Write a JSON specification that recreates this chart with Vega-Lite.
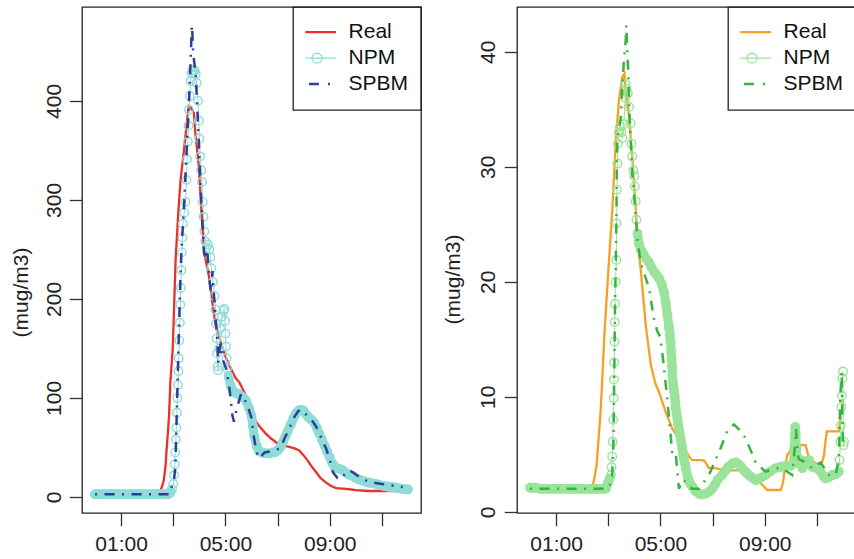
{
  "$schema": "https://vega.github.io/schema/vega-lite/v6.json",
  "background": "white",
  "padding": {"left": 9, "top": 5, "right": 0, "bottom": 0},
  "bounds": "flush",
  "spacing": 96,
  "config": {
    "font": "Liberation Sans",
    "view": {"stroke": "#222222", "strokeWidth": 1.3},
    "axis": {"grid": false, "domain": false, "tickColor": "#333333", "tickWidth": 1.3, "tickSize": 12.7, "labelFont": "Liberation Sans", "labelFontSize": 21, "labelColor": "#222222", "titleFont": "Liberation Sans", "titleFontSize": 21, "titleFontWeight": "normal", "titleColor": "#222222", "labelFlush": false, "labelOverlap": false}
  },
  "resolve": {"scale": {"color": "independent"}, "legend": {"color": "independent"}},
  "datasets": {
    "left": [
      {"s":"Real","t":0,"v":2.7},{"s":"Real","t":1,"v":2.7},{"s":"Real","t":2,"v":2.7},{"s":"Real","t":2.4,"v":2.8},{"s":"Real","t":2.46,"v":4},{"s":"Real","t":2.55,"v":9},{"s":"Real","t":2.63,"v":16},{"s":"Real","t":2.7,"v":30},{"s":"Real","t":2.75,"v":50},{"s":"Real","t":2.8,"v":67},{"s":"Real","t":2.84,"v":83},{"s":"Real","t":2.89,"v":117},{"s":"Real","t":2.94,"v":135},{"s":"Real","t":2.98,"v":150},{"s":"Real","t":3.03,"v":190},{"s":"Real","t":3.09,"v":240},{"s":"Real","t":3.2,"v":290},{"s":"Real","t":3.28,"v":320},{"s":"Real","t":3.41,"v":350},{"s":"Real","t":3.5,"v":372},{"s":"Real","t":3.56,"v":388},{"s":"Real","t":3.6,"v":395},{"s":"Real","t":3.66,"v":394},{"s":"Real","t":3.72,"v":391},{"s":"Real","t":3.79,"v":388},{"s":"Real","t":3.85,"v":367},{"s":"Real","t":3.98,"v":334},{"s":"Real","t":4.04,"v":307},{"s":"Real","t":4.1,"v":280},{"s":"Real","t":4.17,"v":252},{"s":"Real","t":4.25,"v":238},{"s":"Real","t":4.36,"v":224},{"s":"Real","t":4.49,"v":198},{"s":"Real","t":4.62,"v":174},{"s":"Real","t":4.81,"v":157},{"s":"Real","t":5.0,"v":142},{"s":"Real","t":5.2,"v":130},{"s":"Real","t":5.39,"v":120},{"s":"Real","t":5.53,"v":116},{"s":"Real","t":5.7,"v":107},{"s":"Real","t":5.85,"v":99},{"s":"Real","t":6.0,"v":88},{"s":"Real","t":6.17,"v":76},{"s":"Real","t":6.35,"v":70},{"s":"Real","t":6.55,"v":64},{"s":"Real","t":6.75,"v":59},{"s":"Real","t":7.0,"v":54},{"s":"Real","t":7.2,"v":52},{"s":"Real","t":7.45,"v":50.5},{"s":"Real","t":7.65,"v":49},{"s":"Real","t":7.83,"v":47},{"s":"Real","t":8.0,"v":42},{"s":"Real","t":8.15,"v":37},{"s":"Real","t":8.3,"v":31},{"s":"Real","t":8.48,"v":25},{"s":"Real","t":8.65,"v":19},{"s":"Real","t":8.86,"v":14.5},{"s":"Real","t":9.05,"v":11},{"s":"Real","t":9.25,"v":9},{"s":"Real","t":9.5,"v":8.5},{"s":"Real","t":9.76,"v":7.8},{"s":"Real","t":10.0,"v":7},{"s":"Real","t":10.5,"v":6},{"s":"Real","t":11.0,"v":6},{"s":"Real","t":11.5,"v":6},{"s":"Real","t":12.0,"v":6},
      {"s":"NPM","t":0,"v":2.7},{"s":"NPM","t":0.1,"v":2.7},{"s":"NPM","t":0.2,"v":2.7},{"s":"NPM","t":0.3,"v":2.7},{"s":"NPM","t":0.4,"v":2.7},{"s":"NPM","t":0.5,"v":2.7},{"s":"NPM","t":0.6,"v":2.7},{"s":"NPM","t":0.7,"v":2.7},{"s":"NPM","t":0.8,"v":2.7},{"s":"NPM","t":0.9,"v":2.7},{"s":"NPM","t":1.0,"v":2.7},{"s":"NPM","t":1.1,"v":2.7},{"s":"NPM","t":1.2,"v":2.7},{"s":"NPM","t":1.3,"v":2.7},{"s":"NPM","t":1.4,"v":2.7},{"s":"NPM","t":1.5,"v":2.7},{"s":"NPM","t":1.6,"v":2.7},{"s":"NPM","t":1.7,"v":2.7},{"s":"NPM","t":1.8,"v":2.7},{"s":"NPM","t":1.9,"v":2.7},{"s":"NPM","t":2.0,"v":2.7},{"s":"NPM","t":2.1,"v":2.7},{"s":"NPM","t":2.2,"v":2.7},{"s":"NPM","t":2.3,"v":2.7},{"s":"NPM","t":2.4,"v":2.7},{"s":"NPM","t":2.5,"v":2.7},{"s":"NPM","t":2.6,"v":2.7},{"s":"NPM","t":2.7,"v":2.7},{"s":"NPM","t":2.8,"v":2.8},
      {"s":"NPM","t":2.85,"v":3.5},{"s":"NPM","t":2.9,"v":5},{"s":"NPM","t":2.95,"v":8},{"s":"NPM","t":3.0,"v":13},{"s":"NPM","t":3.03,"v":22},{"s":"NPM","t":3.06,"v":33},{"s":"NPM","t":3.08,"v":45},{"s":"NPM","t":3.1,"v":58},{"s":"NPM","t":3.12,"v":70},{"s":"NPM","t":3.14,"v":85},{"s":"NPM","t":3.16,"v":100},{"s":"NPM","t":3.18,"v":113},{"s":"NPM","t":3.2,"v":127},{"s":"NPM","t":3.21,"v":140},{"s":"NPM","t":3.23,"v":158},{"s":"NPM","t":3.25,"v":176},{"s":"NPM","t":3.27,"v":194},{"s":"NPM","t":3.29,"v":211},{"s":"NPM","t":3.31,"v":229},{"s":"NPM","t":3.33,"v":247},{"s":"NPM","t":3.35,"v":262},{"s":"NPM","t":3.37,"v":276},{"s":"NPM","t":3.42,"v":287},{"s":"NPM","t":3.47,"v":298},{"s":"NPM","t":3.51,"v":320},{"s":"NPM","t":3.53,"v":341},{"s":"NPM","t":3.56,"v":359},{"s":"NPM","t":3.58,"v":375},{"s":"NPM","t":3.6,"v":391},{"s":"NPM","t":3.64,"v":405},{"s":"NPM","t":3.67,"v":420},{"s":"NPM","t":3.7,"v":428},{"s":"NPM","t":3.74,"v":431},{"s":"NPM","t":3.78,"v":429},{"s":"NPM","t":3.82,"v":431},{"s":"NPM","t":3.86,"v":427},{"s":"NPM","t":3.9,"v":418},{"s":"NPM","t":3.95,"v":400},{"s":"NPM","t":3.98,"v":380},{"s":"NPM","t":4.0,"v":362},{"s":"NPM","t":4.03,"v":344},{"s":"NPM","t":4.07,"v":330},{"s":"NPM","t":4.1,"v":318},{"s":"NPM","t":4.13,"v":298},{"s":"NPM","t":4.16,"v":283},{"s":"NPM","t":4.19,"v":268},{"s":"NPM","t":4.23,"v":258},{"s":"NPM","t":4.28,"v":252},{"s":"NPM","t":4.33,"v":255},{"s":"NPM","t":4.38,"v":250},{"s":"NPM","t":4.42,"v":242},{"s":"NPM","t":4.46,"v":231},{"s":"NPM","t":4.52,"v":217},{"s":"NPM","t":4.58,"v":203},{"s":"NPM","t":4.62,"v":189},{"s":"NPM","t":4.64,"v":175},{"s":"NPM","t":4.66,"v":160},{"s":"NPM","t":4.68,"v":145},{"s":"NPM","t":4.7,"v":132},{"s":"NPM","t":4.72,"v":128},{"s":"NPM","t":4.76,"v":150},{"s":"NPM","t":4.8,"v":170},{"s":"NPM","t":4.86,"v":182},{"s":"NPM","t":4.92,"v":188},{"s":"NPM","t":4.96,"v":190},{"s":"NPM","t":4.98,"v":178},{"s":"NPM","t":5.0,"v":165},{"s":"NPM","t":5.02,"v":152},{"s":"NPM","t":5.04,"v":140},{"s":"NPM","t":5.07,"v":130},{"s":"NPM","t":5.12,"v":122},{"s":"NPM","t":5.2,"v":112},{"s":"NPM","t":5.3,"v":107},{"s":"NPM","t":5.4,"v":105},{"s":"NPM","t":5.5,"v":104},{"s":"NPM","t":5.6,"v":102},{"s":"NPM","t":5.7,"v":100},{"s":"NPM","t":5.8,"v":97},{"s":"NPM","t":5.9,"v":90},{"s":"NPM","t":6.0,"v":82},{"s":"NPM","t":6.05,"v":72},{"s":"NPM","t":6.1,"v":62},{"s":"NPM","t":6.2,"v":51},{"s":"NPM","t":6.3,"v":46},{"s":"NPM","t":6.4,"v":45},{"s":"NPM","t":6.5,"v":44},{"s":"NPM","t":6.6,"v":44},{"s":"NPM","t":6.7,"v":44},{"s":"NPM","t":6.8,"v":45},{"s":"NPM","t":6.9,"v":45},{"s":"NPM","t":7.0,"v":47},{"s":"NPM","t":7.1,"v":50},{"s":"NPM","t":7.2,"v":55},{"s":"NPM","t":7.3,"v":61},{"s":"NPM","t":7.4,"v":67},{"s":"NPM","t":7.5,"v":73},{"s":"NPM","t":7.6,"v":79},{"s":"NPM","t":7.7,"v":84},{"s":"NPM","t":7.8,"v":87},{"s":"NPM","t":7.9,"v":88},{"s":"NPM","t":8.0,"v":87},{"s":"NPM","t":8.1,"v":83},{"s":"NPM","t":8.2,"v":80},{"s":"NPM","t":8.3,"v":78},{"s":"NPM","t":8.4,"v":75},{"s":"NPM","t":8.5,"v":70},{"s":"NPM","t":8.6,"v":64},{"s":"NPM","t":8.7,"v":58},{"s":"NPM","t":8.8,"v":52},{"s":"NPM","t":8.9,"v":46},{"s":"NPM","t":9.0,"v":40},{"s":"NPM","t":9.1,"v":34},{"s":"NPM","t":9.2,"v":30},{"s":"NPM","t":9.3,"v":29},{"s":"NPM","t":9.4,"v":28},{"s":"NPM","t":9.5,"v":27},{"s":"NPM","t":9.6,"v":25},{"s":"NPM","t":9.7,"v":23},{"s":"NPM","t":9.8,"v":22},{"s":"NPM","t":9.9,"v":21},{"s":"NPM","t":10.0,"v":19},{"s":"NPM","t":10.1,"v":18},{"s":"NPM","t":10.2,"v":17},{"s":"NPM","t":10.3,"v":16},{"s":"NPM","t":10.4,"v":15},{"s":"NPM","t":10.5,"v":14.5},{"s":"NPM","t":10.6,"v":14},{"s":"NPM","t":10.7,"v":13.5},{"s":"NPM","t":10.8,"v":13},{"s":"NPM","t":10.9,"v":12},{"s":"NPM","t":11.0,"v":11.5},{"s":"NPM","t":11.1,"v":11},{"s":"NPM","t":11.2,"v":10.5},{"s":"NPM","t":11.3,"v":10},{"s":"NPM","t":11.4,"v":10},{"s":"NPM","t":11.5,"v":9.5},{"s":"NPM","t":11.6,"v":9},{"s":"NPM","t":11.7,"v":8.5},{"s":"NPM","t":11.8,"v":8},{"s":"NPM","t":11.9,"v":7.8},{"s":"NPM","t":12.0,"v":7.5},
      {"s":"SPBM","t":0,"v":2.7},{"s":"SPBM","t":2.85,"v":2.7},{"s":"SPBM","t":2.9,"v":7},{"s":"SPBM","t":2.95,"v":11},{"s":"SPBM","t":3.02,"v":15},{"s":"SPBM","t":3.08,"v":30},{"s":"SPBM","t":3.12,"v":70},{"s":"SPBM","t":3.16,"v":110},{"s":"SPBM","t":3.2,"v":150},{"s":"SPBM","t":3.25,"v":200},{"s":"SPBM","t":3.3,"v":240},{"s":"SPBM","t":3.36,"v":270},{"s":"SPBM","t":3.41,"v":293},{"s":"SPBM","t":3.5,"v":343},{"s":"SPBM","t":3.58,"v":384},{"s":"SPBM","t":3.63,"v":417},{"s":"SPBM","t":3.67,"v":444},{"s":"SPBM","t":3.71,"v":476},{"s":"SPBM","t":3.73,"v":470},{"s":"SPBM","t":3.76,"v":450},{"s":"SPBM","t":3.8,"v":440},{"s":"SPBM","t":3.86,"v":427},{"s":"SPBM","t":3.92,"v":394},{"s":"SPBM","t":3.99,"v":353},{"s":"SPBM","t":4.05,"v":310},{"s":"SPBM","t":4.12,"v":276},{"s":"SPBM","t":4.18,"v":246},{"s":"SPBM","t":4.25,"v":240},{"s":"SPBM","t":4.3,"v":250},{"s":"SPBM","t":4.37,"v":224},{"s":"SPBM","t":4.44,"v":207},{"s":"SPBM","t":4.5,"v":228},{"s":"SPBM","t":4.55,"v":208},{"s":"SPBM","t":4.63,"v":180},{"s":"SPBM","t":4.69,"v":157},{"s":"SPBM","t":4.72,"v":135},{"s":"SPBM","t":4.76,"v":146},{"s":"SPBM","t":4.82,"v":155},{"s":"SPBM","t":4.88,"v":140},{"s":"SPBM","t":5.02,"v":130},{"s":"SPBM","t":5.14,"v":113},{"s":"SPBM","t":5.2,"v":99},{"s":"SPBM","t":5.27,"v":82},{"s":"SPBM","t":5.33,"v":76},{"s":"SPBM","t":5.4,"v":85},{"s":"SPBM","t":5.5,"v":95},{"s":"SPBM","t":5.6,"v":104},{"s":"SPBM","t":5.7,"v":100},{"s":"SPBM","t":5.8,"v":95},{"s":"SPBM","t":5.9,"v":88},{"s":"SPBM","t":6.0,"v":80},{"s":"SPBM","t":6.1,"v":59},{"s":"SPBM","t":6.2,"v":45},{"s":"SPBM","t":6.3,"v":39},{"s":"SPBM","t":6.4,"v":42},{"s":"SPBM","t":6.5,"v":45},{"s":"SPBM","t":6.7,"v":46},{"s":"SPBM","t":6.9,"v":47},{"s":"SPBM","t":7.07,"v":49},{"s":"SPBM","t":7.2,"v":55},{"s":"SPBM","t":7.3,"v":61},{"s":"SPBM","t":7.45,"v":69},{"s":"SPBM","t":7.6,"v":79},{"s":"SPBM","t":7.8,"v":87},{"s":"SPBM","t":7.96,"v":88},{"s":"SPBM","t":8.1,"v":83},{"s":"SPBM","t":8.3,"v":78},{"s":"SPBM","t":8.48,"v":71},{"s":"SPBM","t":8.7,"v":58},{"s":"SPBM","t":8.86,"v":49},{"s":"SPBM","t":9.0,"v":38},{"s":"SPBM","t":9.12,"v":25},{"s":"SPBM","t":9.3,"v":19},{"s":"SPBM","t":9.44,"v":18},{"s":"SPBM","t":9.6,"v":24},{"s":"SPBM","t":9.75,"v":27},{"s":"SPBM","t":9.88,"v":25},{"s":"SPBM","t":10.2,"v":19},{"s":"SPBM","t":10.53,"v":15},{"s":"SPBM","t":11.0,"v":13},{"s":"SPBM","t":11.3,"v":12},{"s":"SPBM","t":11.8,"v":10}
    ],
    "right": [
      {"s":"Real","t":0,"v":2.0},{"s":"Real","t":1,"v":2.0},{"s":"Real","t":2,"v":2.0},{"s":"Real","t":2.35,"v":2.1},{"s":"Real","t":2.44,"v":2.6},{"s":"Real","t":2.55,"v":4},{"s":"Real","t":2.64,"v":6.7},{"s":"Real","t":2.7,"v":8.5},{"s":"Real","t":2.76,"v":11},{"s":"Real","t":2.85,"v":15.4},{"s":"Real","t":2.93,"v":18.3},{"s":"Real","t":3.03,"v":21.9},{"s":"Real","t":3.16,"v":26.5},{"s":"Real","t":3.29,"v":32.3},{"s":"Real","t":3.41,"v":35.8},{"s":"Real","t":3.54,"v":37.8},{"s":"Real","t":3.62,"v":38.1},{"s":"Real","t":3.67,"v":36.4},{"s":"Real","t":3.8,"v":34.3},{"s":"Real","t":3.92,"v":30.9},{"s":"Real","t":4.05,"v":26.5},{"s":"Real","t":4.12,"v":23.6},{"s":"Real","t":4.24,"v":21.2},{"s":"Real","t":4.44,"v":16.2},{"s":"Real","t":4.63,"v":12.8},{"s":"Real","t":4.8,"v":11.2},{"s":"Real","t":4.95,"v":10.4},{"s":"Real","t":5.2,"v":8.7},{"s":"Real","t":5.46,"v":7.2},{"s":"Real","t":5.65,"v":6.6},{"s":"Real","t":5.84,"v":6.1},{"s":"Real","t":6.0,"v":5.2},{"s":"Real","t":6.1,"v":4.8},{"s":"Real","t":6.22,"v":4.5},{"s":"Real","t":6.6,"v":4.5},{"s":"Real","t":6.7,"v":4.4},{"s":"Real","t":6.86,"v":3.8},{"s":"Real","t":7.1,"v":3.8},{"s":"Real","t":7.5,"v":3.6},{"s":"Real","t":8.27,"v":3.6},{"s":"Real","t":8.45,"v":3.4},{"s":"Real","t":8.59,"v":3.2},{"s":"Real","t":8.8,"v":2.6},{"s":"Real","t":8.97,"v":2.2},{"s":"Real","t":9.1,"v":1.9},{"s":"Real","t":9.61,"v":1.9},{"s":"Real","t":9.7,"v":2.5},{"s":"Real","t":9.74,"v":3.2},{"s":"Real","t":9.86,"v":4.9},{"s":"Real","t":10.0,"v":5.4},{"s":"Real","t":10.18,"v":5.8},{"s":"Real","t":10.57,"v":5.8},{"s":"Real","t":10.7,"v":4.6},{"s":"Real","t":11.07,"v":4.1},{"s":"Real","t":11.2,"v":4.3},{"s":"Real","t":11.27,"v":4.9},{"s":"Real","t":11.33,"v":6.1},{"s":"Real","t":11.38,"v":7.0},{"s":"Real","t":11.84,"v":7.0},{"s":"Real","t":11.9,"v":8},{"s":"Real","t":11.97,"v":9.0},{"s":"Real","t":12.02,"v":9.7},
      {"s":"NPM","t":0,"v":2.1},{"s":"NPM","t":0.1,"v":2.1},{"s":"NPM","t":0.2,"v":2.1},{"s":"NPM","t":0.3,"v":2.05},{"s":"NPM","t":0.4,"v":2.0},{"s":"NPM","t":0.5,"v":2.0},{"s":"NPM","t":0.6,"v":2.0},{"s":"NPM","t":0.7,"v":2.0},{"s":"NPM","t":0.8,"v":2.0},{"s":"NPM","t":0.9,"v":2.0},{"s":"NPM","t":1.0,"v":2.0},{"s":"NPM","t":1.1,"v":2.0},{"s":"NPM","t":1.2,"v":2.0},{"s":"NPM","t":1.3,"v":2.0},{"s":"NPM","t":1.4,"v":2.0},{"s":"NPM","t":1.5,"v":2.0},{"s":"NPM","t":1.6,"v":2.0},{"s":"NPM","t":1.7,"v":2.0},{"s":"NPM","t":1.8,"v":2.0},{"s":"NPM","t":1.9,"v":2.0},{"s":"NPM","t":2.0,"v":2.0},{"s":"NPM","t":2.1,"v":2.0},{"s":"NPM","t":2.2,"v":2.0},{"s":"NPM","t":2.3,"v":2.0},{"s":"NPM","t":2.4,"v":2.0},{"s":"NPM","t":2.5,"v":2.0},{"s":"NPM","t":2.6,"v":2.0},{"s":"NPM","t":2.7,"v":2.0},{"s":"NPM","t":2.8,"v":2.0},{"s":"NPM","t":2.9,"v":2.0},
      {"s":"NPM","t":2.95,"v":2.3},{"s":"NPM","t":3.0,"v":2.6},{"s":"NPM","t":3.05,"v":2.9},{"s":"NPM","t":3.1,"v":3.2},{"s":"NPM","t":3.13,"v":3.9},{"s":"NPM","t":3.15,"v":4.8},{"s":"NPM","t":3.17,"v":6.1},{"s":"NPM","t":3.19,"v":8},{"s":"NPM","t":3.21,"v":9.9},{"s":"NPM","t":3.22,"v":11.5},{"s":"NPM","t":3.23,"v":13},{"s":"NPM","t":3.24,"v":14.8},{"s":"NPM","t":3.25,"v":16.5},{"s":"NPM","t":3.26,"v":18.1},{"s":"NPM","t":3.28,"v":20},{"s":"NPM","t":3.31,"v":21.9},{"s":"NPM","t":3.32,"v":25.1},{"s":"NPM","t":3.33,"v":28},{"s":"NPM","t":3.35,"v":30.3},{"s":"NPM","t":3.37,"v":32},{"s":"NPM","t":3.4,"v":33},{"s":"NPM","t":3.45,"v":33.5},{"s":"NPM","t":3.5,"v":33},{"s":"NPM","t":3.55,"v":32.5},{"s":"NPM","t":3.6,"v":33.7},{"s":"NPM","t":3.65,"v":36},{"s":"NPM","t":3.67,"v":37.2},{"s":"NPM","t":3.7,"v":36.8},{"s":"NPM","t":3.75,"v":36.4},{"s":"NPM","t":3.8,"v":35.2},{"s":"NPM","t":3.86,"v":33.8},{"s":"NPM","t":3.89,"v":32},{"s":"NPM","t":3.92,"v":30.9},{"s":"NPM","t":3.96,"v":29.7},{"s":"NPM","t":4.0,"v":29.2},{"s":"NPM","t":4.02,"v":28.3},{"s":"NPM","t":4.05,"v":27},{"s":"NPM","t":4.08,"v":25.4},{"s":"NPM","t":4.12,"v":24.2},{"s":"NPM","t":4.18,"v":23.3},{"s":"NPM","t":4.25,"v":22.8},{"s":"NPM","t":4.35,"v":22.4},{"s":"NPM","t":4.45,"v":22},{"s":"NPM","t":4.56,"v":21.7},{"s":"NPM","t":4.65,"v":21.3},{"s":"NPM","t":4.75,"v":20.9},{"s":"NPM","t":4.85,"v":20.6},{"s":"NPM","t":4.95,"v":20.3},{"s":"NPM","t":5.05,"v":19.8},{"s":"NPM","t":5.14,"v":19.1},{"s":"NPM","t":5.2,"v":18.2},{"s":"NPM","t":5.27,"v":17.1},{"s":"NPM","t":5.33,"v":16},{"s":"NPM","t":5.36,"v":15.4},{"s":"NPM","t":5.39,"v":14.8},{"s":"NPM","t":5.41,"v":14},{"s":"NPM","t":5.43,"v":13.3},{"s":"NPM","t":5.45,"v":12.6},{"s":"NPM","t":5.46,"v":11.9},{"s":"NPM","t":5.48,"v":11.3},{"s":"NPM","t":5.5,"v":10.8},{"s":"NPM","t":5.53,"v":10.4},{"s":"NPM","t":5.55,"v":10},{"s":"NPM","t":5.57,"v":9.5},{"s":"NPM","t":5.59,"v":9.0},{"s":"NPM","t":5.62,"v":8.5},{"s":"NPM","t":5.65,"v":8.1},{"s":"NPM","t":5.68,"v":7.6},{"s":"NPM","t":5.71,"v":7.2},{"s":"NPM","t":5.75,"v":6.7},{"s":"NPM","t":5.78,"v":6.3},{"s":"NPM","t":5.81,"v":5.9},{"s":"NPM","t":5.84,"v":5.5},{"s":"NPM","t":5.87,"v":5.0},{"s":"NPM","t":5.9,"v":4.6},{"s":"NPM","t":5.94,"v":4.2},{"s":"NPM","t":5.97,"v":3.8},{"s":"NPM","t":6.05,"v":3.0},{"s":"NPM","t":6.13,"v":2.5},{"s":"NPM","t":6.22,"v":2.2},{"s":"NPM","t":6.35,"v":1.8},{"s":"NPM","t":6.5,"v":1.55},{"s":"NPM","t":6.61,"v":1.5},{"s":"NPM","t":6.75,"v":1.6},{"s":"NPM","t":6.9,"v":1.8},{"s":"NPM","t":6.99,"v":2.0},{"s":"NPM","t":7.1,"v":2.4},{"s":"NPM","t":7.2,"v":2.8},{"s":"NPM","t":7.37,"v":3.2},{"s":"NPM","t":7.5,"v":3.6},{"s":"NPM","t":7.6,"v":3.9},{"s":"NPM","t":7.76,"v":4.2},{"s":"NPM","t":7.9,"v":4.3},{"s":"NPM","t":8.01,"v":4.1},{"s":"NPM","t":8.1,"v":3.9},{"s":"NPM","t":8.2,"v":3.6},{"s":"NPM","t":8.3,"v":3.4},{"s":"NPM","t":8.39,"v":3.2},{"s":"NPM","t":8.5,"v":3.0},{"s":"NPM","t":8.65,"v":2.75},{"s":"NPM","t":8.8,"v":2.9},{"s":"NPM","t":9.03,"v":3.2},{"s":"NPM","t":9.2,"v":3.5},{"s":"NPM","t":9.42,"v":3.8},{"s":"NPM","t":9.6,"v":3.9},{"s":"NPM","t":9.8,"v":4.0},{"s":"NPM","t":10.0,"v":4.0},{"s":"NPM","t":10.1,"v":4.2},{"s":"NPM","t":10.13,"v":5.5},{"s":"NPM","t":10.15,"v":6.5},{"s":"NPM","t":10.17,"v":7.4},{"s":"NPM","t":10.19,"v":6.8},{"s":"NPM","t":10.21,"v":5.5},{"s":"NPM","t":10.23,"v":4.6},{"s":"NPM","t":10.3,"v":4.2},{"s":"NPM","t":10.4,"v":4.5},{"s":"NPM","t":10.44,"v":3.8},{"s":"NPM","t":10.6,"v":4.2},{"s":"NPM","t":10.7,"v":4.5},{"s":"NPM","t":10.82,"v":3.9},{"s":"NPM","t":11.0,"v":3.8},{"s":"NPM","t":11.14,"v":3.5},{"s":"NPM","t":11.25,"v":3.1},{"s":"NPM","t":11.33,"v":2.9},{"s":"NPM","t":11.45,"v":3.0},{"s":"NPM","t":11.59,"v":3.2},{"s":"NPM","t":11.75,"v":3.3},{"s":"NPM","t":11.84,"v":3.5},{"s":"NPM","t":11.87,"v":4.5},{"s":"NPM","t":11.9,"v":6.1},{"s":"NPM","t":11.92,"v":7.5},{"s":"NPM","t":11.94,"v":9.1},{"s":"NPM","t":11.96,"v":10.1},{"s":"NPM","t":11.98,"v":11.6},{"s":"NPM","t":12.0,"v":12.2},{"s":"NPM","t":12.02,"v":5.8},{"s":"NPM","t":12.04,"v":6.1},
      {"s":"SPBM","t":0,"v":2.0},{"s":"SPBM","t":2.95,"v":2.0},{"s":"SPBM","t":3.05,"v":2.3},{"s":"SPBM","t":3.15,"v":3.0},{"s":"SPBM","t":3.2,"v":6},{"s":"SPBM","t":3.22,"v":10},{"s":"SPBM","t":3.24,"v":14},{"s":"SPBM","t":3.26,"v":18},{"s":"SPBM","t":3.29,"v":21.9},{"s":"SPBM","t":3.31,"v":25},{"s":"SPBM","t":3.32,"v":27.7},{"s":"SPBM","t":3.33,"v":30.4},{"s":"SPBM","t":3.35,"v":32.3},{"s":"SPBM","t":3.48,"v":34.3},{"s":"SPBM","t":3.54,"v":37},{"s":"SPBM","t":3.6,"v":39.3},{"s":"SPBM","t":3.67,"v":41},{"s":"SPBM","t":3.69,"v":42.3},{"s":"SPBM","t":3.73,"v":39.9},{"s":"SPBM","t":3.77,"v":38.1},{"s":"SPBM","t":3.8,"v":35.2},{"s":"SPBM","t":3.86,"v":32.3},{"s":"SPBM","t":3.92,"v":29.4},{"s":"SPBM","t":4.03,"v":26.5},{"s":"SPBM","t":4.12,"v":23.6},{"s":"SPBM","t":4.24,"v":21.7},{"s":"SPBM","t":4.44,"v":20.3},{"s":"SPBM","t":4.56,"v":19.5},{"s":"SPBM","t":4.75,"v":16.8},{"s":"SPBM","t":4.88,"v":15.7},{"s":"SPBM","t":5.0,"v":15.2},{"s":"SPBM","t":5.14,"v":12.5},{"s":"SPBM","t":5.27,"v":9.6},{"s":"SPBM","t":5.39,"v":6.7},{"s":"SPBM","t":5.46,"v":4.9},{"s":"SPBM","t":5.59,"v":5.0},{"s":"SPBM","t":5.71,"v":2.0},{"s":"SPBM","t":5.85,"v":2.8},{"s":"SPBM","t":5.97,"v":2.6},{"s":"SPBM","t":6.1,"v":2.2},{"s":"SPBM","t":6.22,"v":2.0},{"s":"SPBM","t":6.47,"v":2.0},{"s":"SPBM","t":6.86,"v":3.2},{"s":"SPBM","t":7.25,"v":5.2},{"s":"SPBM","t":7.56,"v":7.0},{"s":"SPBM","t":7.82,"v":7.6},{"s":"SPBM","t":8.0,"v":7.2},{"s":"SPBM","t":8.27,"v":6.4},{"s":"SPBM","t":8.65,"v":4.3},{"s":"SPBM","t":9.03,"v":3.5},{"s":"SPBM","t":9.42,"v":3.8},{"s":"SPBM","t":9.67,"v":3.8},{"s":"SPBM","t":10.05,"v":3.2},{"s":"SPBM","t":10.15,"v":5.5},{"s":"SPBM","t":10.2,"v":7.2},{"s":"SPBM","t":10.25,"v":5.5},{"s":"SPBM","t":10.3,"v":4.6},{"s":"SPBM","t":10.57,"v":4.3},{"s":"SPBM","t":10.82,"v":3.8},{"s":"SPBM","t":11.14,"v":4.3},{"s":"SPBM","t":11.46,"v":3.2},{"s":"SPBM","t":11.72,"v":3.2},{"s":"SPBM","t":11.84,"v":4.6},{"s":"SPBM","t":11.9,"v":10.1},{"s":"SPBM","t":11.95,"v":12.2},{"s":"SPBM","t":11.97,"v":9.0},{"s":"SPBM","t":12.0,"v":6.0}
    ]
  },
  "hconcat": [
    {
      "width": 339, "height": 506,
      "data": {"name": "left"},
      "encoding": {
        "x": {"field": "t", "type": "quantitative", "scale": {"domain": [-0.5, 12.5], "nice": false, "zero": false},
              "axis": {"values": [1,3,5,7,9,11], "labelExpr": "datum.value % 4 == 1 ? '0' + datum.value + ':00' : ''", "title": null, "labelPadding": 8}},
        "y": {"field": "v", "type": "quantitative", "scale": {"domain": [-16.2, 494.8], "nice": false, "zero": false},
              "axis": {"values": [0,100,200,300,400], "title": "(mug/m3)", "labelAngle": -90, "labelAlign": "center", "labelBaseline": "bottom", "labelPadding": 5, "titleX": -61, "titleY": 285, "titleAngle": -90, "titleAlign": "center", "titleBaseline": "middle"}}
      },
      "layer": [
        {"transform": [{"filter": "datum.s == 'Real'"}],
         "mark": {"type": "line", "strokeWidth": 2.3, "clip": true},
         "encoding": {"color": {"field": "s", "type": "nominal",
           "scale": {"domain": ["Real","NPM","SPBM"], "range": ["#E8312A","#8FDCD6","#2D3F9A"]},
           "legend": {"title": null, "orient": "top-right", "offset": 0, "padding": 12.25, "strokeColor": "#222222",
             "symbolSize": 1444, "labelOffset": 22.35, "labelFontSize": 21, "labelFont": "Liberation Sans", "labelColor": "#111111",
             "clipHeight": 25.6, "rowPadding": 0,
             "encode": {
               "symbols": {"update": {
                 "shape": {"signal": "datum.value == 'NPM' ? 'M-0.934,0H1.066M0.329,0A0.263,0.263,0,1,1,-0.197,0A0.263,0.263,0,1,1,0.329,0' : datum.value == 'SPBM' ? 'M-0.934,0H-0.834M-0.354,0H0.166M0.646,0H0.746' : 'M-0.934,0H1.066'"},
                 "strokeWidth": {"signal": "datum.value == 'Real' ? 2.3 : datum.value == 'NPM' ? 1.2 : 2.5"},
                 "strokeDash": {"value": []},
                 "fill": {"value": "transparent"}}},
               "legend": {"update": {"strokeWidth": {"value": 1.3}}}
             }}}}},
        {"transform": [{"filter": "datum.s == 'NPM' && datum.t <= 2.9"}],
         "mark": {"type": "line", "strokeWidth": 9, "strokeCap": "round", "strokeJoin": "round", "color": "#8FDCD6", "clip": true}},
        {"transform": [{"filter": "datum.s == 'NPM' && datum.t >= 5.1"}],
         "mark": {"type": "line", "strokeWidth": 9, "strokeCap": "round", "strokeJoin": "round", "color": "#8FDCD6", "clip": true}},
        {"transform": [{"filter": "datum.s == 'NPM'"}],
         "mark": {"type": "line", "strokeWidth": 1, "clip": true},
         "encoding": {"color": {"field": "s", "type": "nominal"}}},
        {"transform": [{"filter": "datum.s == 'NPM'"}],
         "mark": {"type": "point", "filled": false, "color": "#8FDCD6", "size": 72, "strokeWidth": 1.4, "opacity": 1, "clip": true}},
        {"transform": [{"filter": "datum.s == 'SPBM'"}],
         "mark": {"type": "line", "strokeWidth": 2.5, "strokeDash": [2, 7.5, 10, 7.5], "clip": true},
         "encoding": {"color": {"field": "s", "type": "nominal"}}}
      ]
    },
    {
      "width": 339, "height": 506,
      "data": {"name": "right"},
      "encoding": {
        "x": {"field": "t", "type": "quantitative", "scale": {"domain": [-0.5, 12.5], "nice": false, "zero": false},
              "axis": {"values": [1,3,5,7,9,11], "labelExpr": "datum.value % 4 == 1 ? '0' + datum.value + ':00' : ''", "title": null, "labelPadding": 8}},
        "y": {"field": "v", "type": "quantitative", "scale": {"domain": [-0.1, 43.9], "nice": false, "zero": false},
              "axis": {"values": [0,10,20,30,40], "title": "(mug/m3)", "labelAngle": -90, "labelAlign": "center", "labelBaseline": "bottom", "labelPadding": 6, "titleX": -64, "titleY": 272, "titleAngle": -90, "titleAlign": "center", "titleBaseline": "middle"}}
      },
      "layer": [
        {"transform": [{"filter": "datum.s == 'Real'"}],
         "mark": {"type": "line", "strokeWidth": 2.3, "clip": true},
         "encoding": {"color": {"field": "s", "type": "nominal",
           "scale": {"domain": ["Real","NPM","SPBM"], "range": ["#F7A023","#9BE39B","#35B53F"]},
           "legend": {"title": null, "orient": "top-right", "offset": 0, "padding": 12.25, "strokeColor": "#222222",
             "symbolSize": 1444, "labelOffset": 22.35, "labelFontSize": 21, "labelFont": "Liberation Sans", "labelColor": "#111111",
             "clipHeight": 25.6, "rowPadding": 0,
             "encode": {
               "symbols": {"update": {
                 "shape": {"signal": "datum.value == 'NPM' ? 'M-0.934,0H1.066M0.329,0A0.263,0.263,0,1,1,-0.197,0A0.263,0.263,0,1,1,0.329,0' : datum.value == 'SPBM' ? 'M-0.934,0H-0.834M-0.354,0H0.166M0.646,0H0.746' : 'M-0.934,0H1.066'"},
                 "strokeWidth": {"signal": "datum.value == 'Real' ? 2.3 : datum.value == 'NPM' ? 1.2 : 2.5"},
                 "strokeDash": {"value": []},
                 "fill": {"value": "transparent"}}},
               "legend": {"update": {"strokeWidth": {"value": 1.3}}}
             }}}}},
        {"transform": [{"filter": "datum.s == 'NPM' && datum.t <= 3.05"}],
         "mark": {"type": "line", "strokeWidth": 9, "strokeCap": "round", "strokeJoin": "round", "color": "#9BE39B", "clip": true}},
        {"transform": [{"filter": "datum.s == 'NPM' && datum.t >= 4.1 && datum.t <= 11.85"}],
         "mark": {"type": "line", "strokeWidth": 9, "strokeCap": "round", "strokeJoin": "round", "color": "#9BE39B", "clip": true}},
        {"transform": [{"filter": "datum.s == 'NPM'"}],
         "mark": {"type": "line", "strokeWidth": 1, "clip": true},
         "encoding": {"color": {"field": "s", "type": "nominal"}}},
        {"transform": [{"filter": "datum.s == 'NPM'"}],
         "mark": {"type": "point", "filled": false, "color": "#9BE39B", "size": 72, "strokeWidth": 1.4, "opacity": 1, "clip": true}},
        {"transform": [{"filter": "datum.s == 'SPBM'"}],
         "mark": {"type": "line", "strokeWidth": 2.5, "strokeDash": [2, 7.5, 10, 7.5], "clip": true},
         "encoding": {"color": {"field": "s", "type": "nominal"}}}
      ]
    }
  ]
}
